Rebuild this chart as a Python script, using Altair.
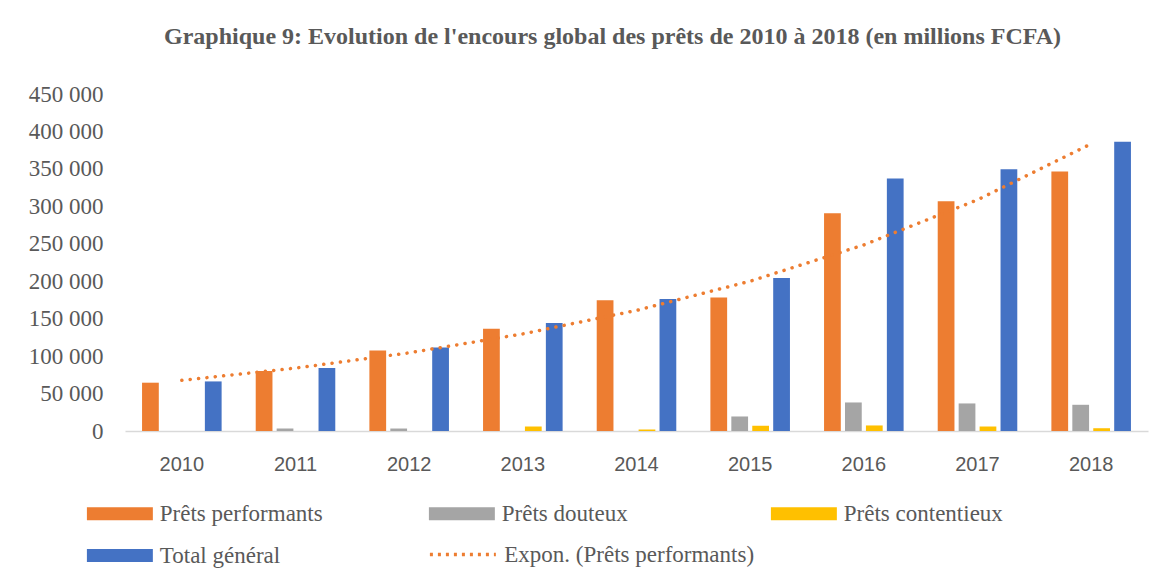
import altair as alt
import pandas as pd

years = ["2010", "2011", "2012", "2013", "2014", "2015", "2016", "2017", "2018"]
performants = [64500, 80000, 107600, 136600, 174500, 178100, 290800, 306800, 346600]
douteux = [0, 3300, 3300, 0, 0, 19400, 38100, 36800, 35000]
contentieux = [0, 0, 0, 6000, 2000, 7000, 7400, 6000, 3700]
total = [66200, 84000, 111600, 144200, 176200, 204300, 337200, 349600, 386100]

series_names = ["Prêts performants", "Prêts douteux", "Prêts contentieux", "Total général"]
series_colors = ["#ED7D31", "#A5A5A5", "#FFC000", "#4472C4"]
trend_name = "Expon. (Prêts performants)"
y_ticks = [0, 50000, 100000, 150000, 200000, 250000, 300000, 350000, 400000, 450000]

rows = []
for i, yr in enumerate(years):
    for name, vals in zip(series_names, [performants, douteux, contentieux, total]):
        rows.append({"year": yr, "series": name, "value": vals[i]})
df_long = pd.DataFrame(rows)
df_wide = pd.DataFrame({"year": years, "perf": performants})

TXT = "#595959"
SERIF = "Liberation Serif"

x_scale = alt.Scale(paddingInner=0.3, paddingOuter=0.15)
x_axis = alt.Axis(
    labelAngle=0, ticks=False, grid=False, domainColor="#D9D9D9", domainWidth=1.5,
    labelFont="Liberation Sans", labelFontSize=20, labelColor=TXT, labelPadding=23,
)
y_scale = alt.Scale(domain=[0, 450000])
y_axis = alt.Axis(
    values=y_ticks, ticks=False, domain=False, grid=False, labelOverlap=False,
    labelFont=SERIF, labelFontSize=23, labelColor=TXT, labelPadding=22,
    labelExpr="replace(format(datum.value, ','), regexp(',', 'g'), ' ')",
)

bars = alt.Chart(df_long).mark_bar().encode(
    x=alt.X("year:N", title=None, scale=x_scale, axis=x_axis),
    xOffset=alt.XOffset("series:N", sort=series_names,
                        scale=alt.Scale(paddingInner=0.2, paddingOuter=0)),
    y=alt.Y("value:Q", title=None, scale=y_scale, axis=y_axis),
    color=alt.Color(
        "series:N",
        scale=alt.Scale(domain=series_names, range=series_colors),
        legend=alt.Legend(
            title=None, orient="none", direction="horizontal", legendX=-43, legendY=408,
            columns=3, gridAlign="all", columnPadding=101, rowPadding=18, padding=0,
            symbolType="M-1,-1H9V1H-1Z", symbolSize=174, symbolStrokeWidth=0,
            labelOffset=54.8, labelFont=SERIF, labelFontSize=23, labelColor=TXT,
            labelLimit=500,
        ),
    ),
)

trend = (
    alt.Chart(df_wide)
    .transform_calculate(t="toNumber(datum.year) - 2014", ly="log(datum.perf)")
    .transform_calculate(tly="datum.t * datum.ly", tt="datum.t * datum.t")
    .transform_joinaggregate(mly="mean(ly)", stly="sum(tly)", stt="sum(tt)", mt="mean(t)")
    .transform_calculate(fit="exp(datum.mly + (datum.stly / datum.stt) * (datum.t - datum.mt))",
                         trend="'" + trend_name + "'")
    .mark_line(color="#ED7D31", strokeDash=[0.1, 8.3], strokeCap="round", strokeWidth=3.5)
    .encode(
        x=alt.X("year:N", title=None, scale=x_scale, axis=x_axis),
        y=alt.Y("fit:Q", title=None, scale=y_scale, axis=y_axis),
        opacity=alt.Opacity(
            "trend:N",
            scale=alt.Scale(domain=[trend_name], range=[1, 1]),
            legend=alt.Legend(
                title=None, orient="none", legendX=300, legendY=449, padding=0,
                symbolType="M-1,0H9", symbolSize=174, symbolStrokeColor="#ED7D31",
                symbolStrokeWidth=3.5, symbolDash=[3, 5], symbolFillColor="transparent",
                labelOffset=56.3, labelFont=SERIF, labelFontSize=23, labelColor=TXT,
                labelLimit=500,
            ),
        ),
    )
)

chart = (
    alt.layer(bars, trend)
    .properties(
        width=1023, height=337,
        autosize=alt.AutoSizeParams(type="none"),
        padding={"left": 117, "top": 86, "right": 11, "bottom": 138},
        title=alt.TitleParams(
            "Graphique 9: Evolution de l'encours global des prêts de 2010 à 2018 (en millions FCFA)",
            font=SERIF, fontSize=24, fontWeight="bold", color=TXT,
            anchor="middle", frame="group", dx=-24, offset=34,
        ),
    )
    .configure_view(stroke=None)
    .configure_axisY(labelOverlap=False)
)

chart.save("out.html", embed_options={"renderer": "svg", "actions": False})
